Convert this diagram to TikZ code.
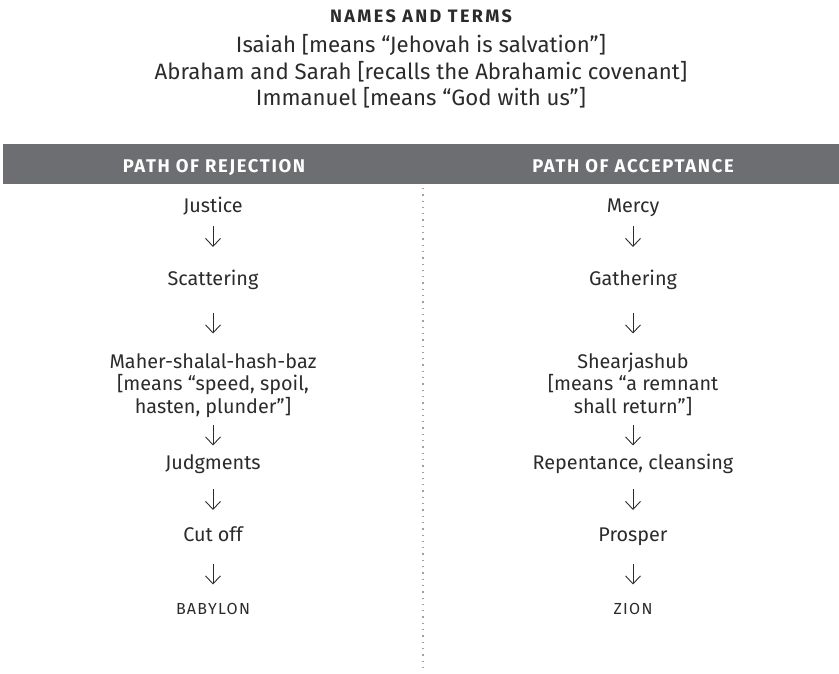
\documentclass[tikz,border=0pt]{standalone}
\usepackage{fontspec}
\setmainfont{Fira Sans}
\usetikzlibrary{arrows.meta,calc}
\definecolor{ink}{HTML}{2B2B2B}
\definecolor{barfill}{HTML}{6D6E71}
\definecolor{dotcol}{HTML}{A0A0A0}
\begin{document}
\begin{tikzpicture}[x=1pt,y=1pt,
  every node/.style={inner sep=0pt,outer sep=0pt,text=ink},
  body/.style={anchor=base,font=\fontsize{19.8}{22.5}\selectfont},
  endword/.style={anchor=base,font=\fontsize{16}{19}\selectfont\addfontfeature{LetterSpace=8}},
  headtxt/.style={anchor=base,text=white,font=\fontsize{18.4}{22}\selectfont\bfseries\addfontfeature{LetterSpace=9}},
  arr/.style={draw=ink,line width=0.9pt,-{Straight Barb[length=8pt,width=15pt]}},
  divider/.style={draw=dotcol,line width=1.3pt,dash pattern=on 1.3pt off 5pt}
]
\useasboundingbox (0,0) rectangle (839,-674);

% title block
\node[anchor=base,font=\fontsize{18}{21}\selectfont\bfseries\addfontfeature{LetterSpace=13}] (title) at (421,-23) {NAMES AND TERMS};
\node[anchor=base,font=\fontsize{22.2}{26.5}\selectfont] (terms) at (421,-53)
  {\begin{tabular}[t]{@{}c@{}}Isaiah [means “Jehovah is salvation”]\\Abraham and Sarah [recalls the Abrahamic covenant]\\Immanuel [means “God with us”]\end{tabular}};

% header bar
\node[fill=barfill,minimum width=836pt,minimum height=40pt,anchor=north west] (bar) at (3,-144) {};
\node[headtxt] (hl) at (214,-173) {PATH OF REJECTION};
\node[headtxt] (hr) at (633,-173) {PATH OF ACCEPTANCE};

% divider
\coordinate (dtop) at (423,-188);
\coordinate (dbot) at (423,-672);
\draw[divider] (dtop) -- (dbot);

% left column
\node[body] (justice) at (213,-213) {Justice};
\node[body] (scatter) at (213,-286) {Scattering};
\node[body] (maher) at (213,-368) {\begin{tabular}[t]{@{}c@{}}Maher-shalal-hash-baz\\{[}means “speed, spoil,\\hasten, plunder”]\end{tabular}};
\node[body] (judg) at (213,-469) {Judgments};
\node[body] (cut) at (213,-541) {Cut off};
\node[endword] (bab) at (213,-614) {BABYLON};

% right column
\node[body] (mercy) at (633,-213) {Mercy};
\node[body] (gather) at (633,-286) {Gathering};
\node[body] (shear) at (633,-368) {\begin{tabular}[t]{@{}c@{}}Shearjashub\\{[}means “a remnant\\shall return”]\end{tabular}};
\node[body] (repent) at (633,-469) {Repentance, cleansing};
\node[body] (prosper) at (633,-541) {Prosper};
\node[endword] (zion) at (633,-614) {ZION};

% arrows
\foreach \a/\b in {justice/scatter,mercy/gather}
  \draw[arr] ($(\a.base)+(0,-13)$) -- ($(\b.base)+(0,39)$);
\foreach \a/\b in {scatter/maher,gather/shear}
  \draw[arr] ($(\a.base)+(0,-26.5)$) -- ($(\b.base)+(0,34.5)$);
\foreach \a/\b in {maher/judg,shear/repent}
  \draw[arr] ($(\a.base)+(0,-56.5)$) -- ($(\b.base)+(0,23.5)$);
\foreach \a/\b in {judg/cut,repent/prosper}
  \draw[arr] ($(\a.base)+(0,-20)$) -- ($(\b.base)+(0,31)$);
\foreach \a/\b in {cut/bab,prosper/zion}
  \draw[arr] ($(\a.base)+(0,-22.5)$) -- ($(\b.base)+(0,29.5)$);
\end{tikzpicture}
\end{document}
